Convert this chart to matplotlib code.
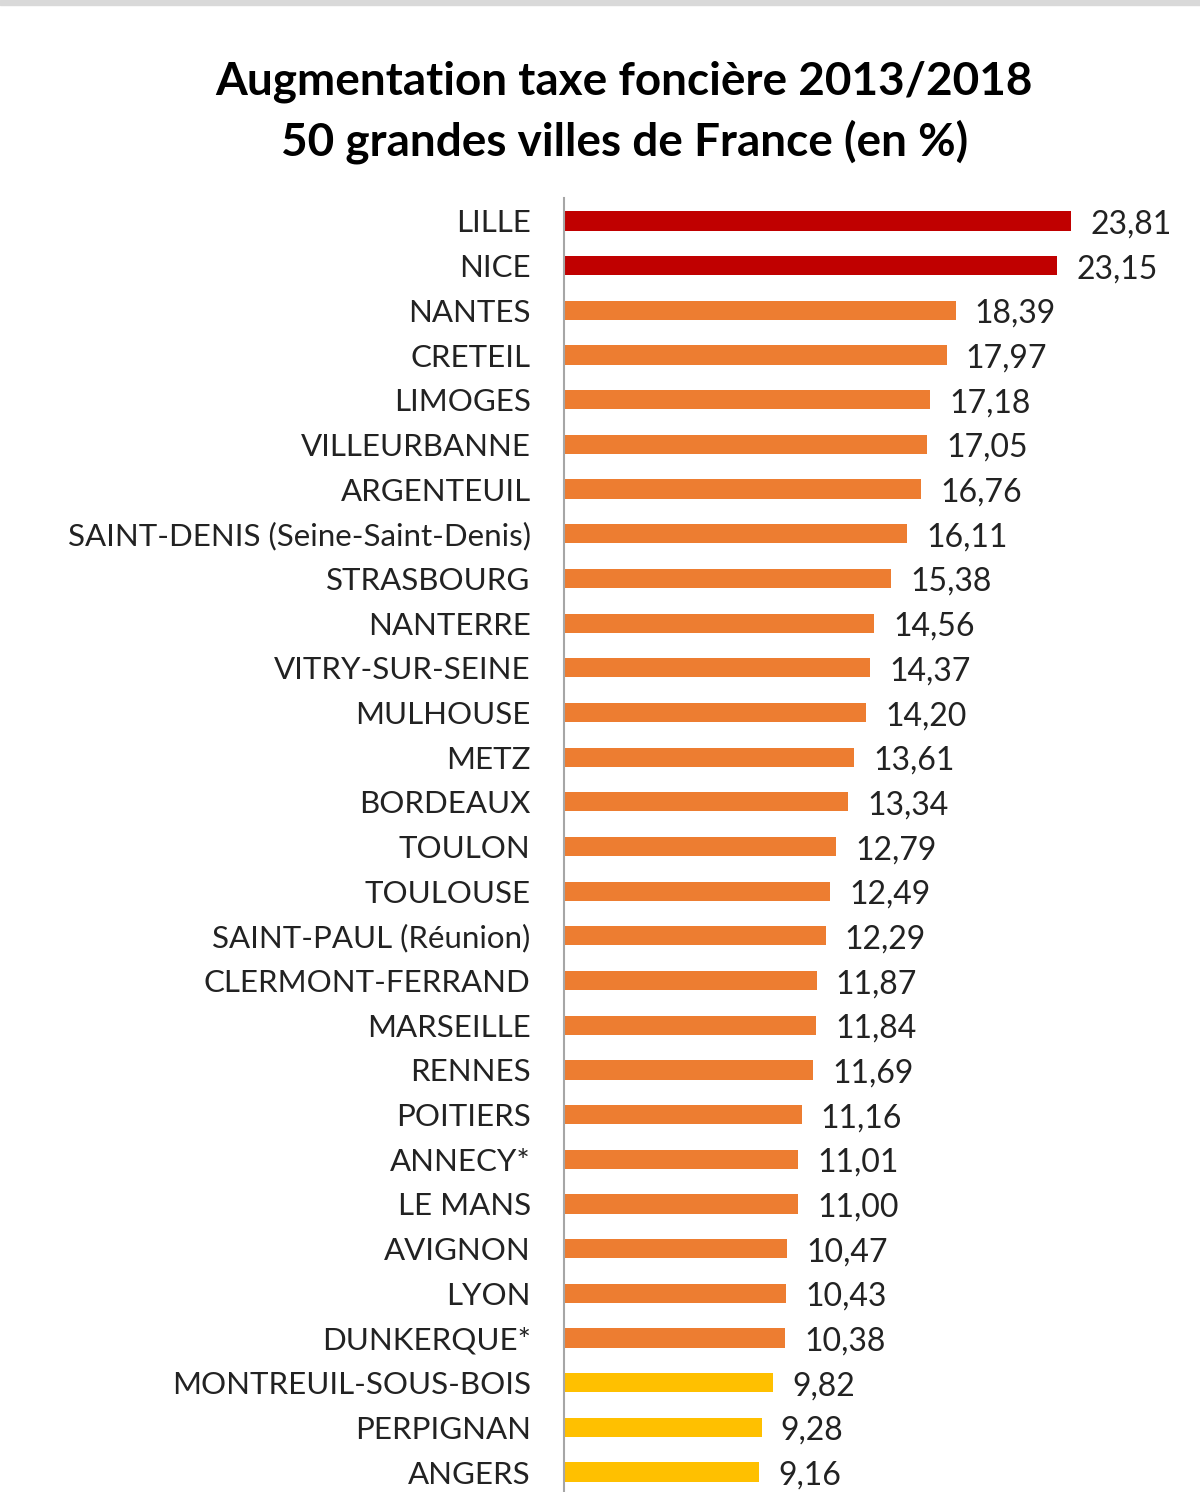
import matplotlib
matplotlib.use("Agg")
import matplotlib.pyplot as plt
from matplotlib.patches import Rectangle

# values (in %)
cities = [
    "LILLE", "NICE", "NANTES", "CRETEIL", "LIMOGES", "VILLEURBANNE", "ARGENTEUIL",
    "SAINT-DENIS (Seine-Saint-Denis)", "STRASBOURG", "NANTERRE", "VITRY-SUR-SEINE",
    "MULHOUSE", "METZ", "BORDEAUX", "TOULON", "TOULOUSE", "SAINT-PAUL (Réunion)",
    "CLERMONT-FERRAND", "MARSEILLE", "RENNES", "POITIERS", "ANNECY*", "LE MANS",
    "AVIGNON", "LYON", "DUNKERQUE*", "MONTREUIL-SOUS-BOIS", "PERPIGNAN", "ANGERS",
]
values = [
    23.81, 23.15, 18.39, 17.97, 17.18, 17.05, 16.76, 16.11, 15.38, 14.56, 14.37,
    14.20, 13.61, 13.34, 12.79, 12.49, 12.29, 11.87, 11.84, 11.69, 11.16, 11.01,
    11.00, 10.47, 10.43, 10.38, 9.82, 9.28, 9.16,
]

RED, ORANGE, YELLOW = "#C00000", "#ED7D31", "#FFC000"


def bar_color(v):
    if v > 20:
        return RED
    if v >= 10:
        return ORANGE
    return YELLOW


plt.rcParams["font.family"] = ["Lato", "DejaVu Sans"]

W, H = 1200, 1492
fig = plt.figure(figsize=(W / 100, H / 100), dpi=100)

# thin grey band at the very top of the screenshot
fig.patches.append(Rectangle((0, 1 - 5 / H), 1, 5 / H, transform=fig.transFigure,
                             color="#d9d9d9", zorder=0))

fig.text(624 / W, 1 - 82 / H, "Augmentation taxe foncière 2013/2018",
         ha="center", va="center", fontsize=33, fontweight="bold")
fig.text(625 / W, 1 - 142 / H, "50 grandes villes de France (en %)",
         ha="center", va="center", fontsize=33, fontweight="bold")

# axes spans x 564..1200 px, y 198..1492 px
ax = fig.add_axes([564 / W, 0, 1 - 564 / W, 1 - 198 / H])
ypos = list(range(len(cities)))
ax.barh(ypos, values, height=0.43, color=[bar_color(v) for v in values])
ax.set_xlim(0, 636 / 21.29)
ax.set_ylim((1492 - 221) / 44.68, -23 / 44.68)

for y, v in zip(ypos, values):
    ax.text(v + 0.9, y + 0.08, f"{v:.2f}".replace(".", ","),
            ha="left", va="center", fontsize=23, color="#222222")

ax.set_yticks(ypos)
ax.set_yticklabels(cities, fontsize=22.5, color="#222222")
ax.tick_params(axis="y", length=0, pad=24)
ax.set_xticks([])
for side in ("top", "right", "bottom"):
    ax.spines[side].set_visible(False)
ax.spines["left"].set_color("#a6a6a6")
ax.spines["left"].set_linewidth(1.5)

fig.savefig("out.png", dpi=100)
